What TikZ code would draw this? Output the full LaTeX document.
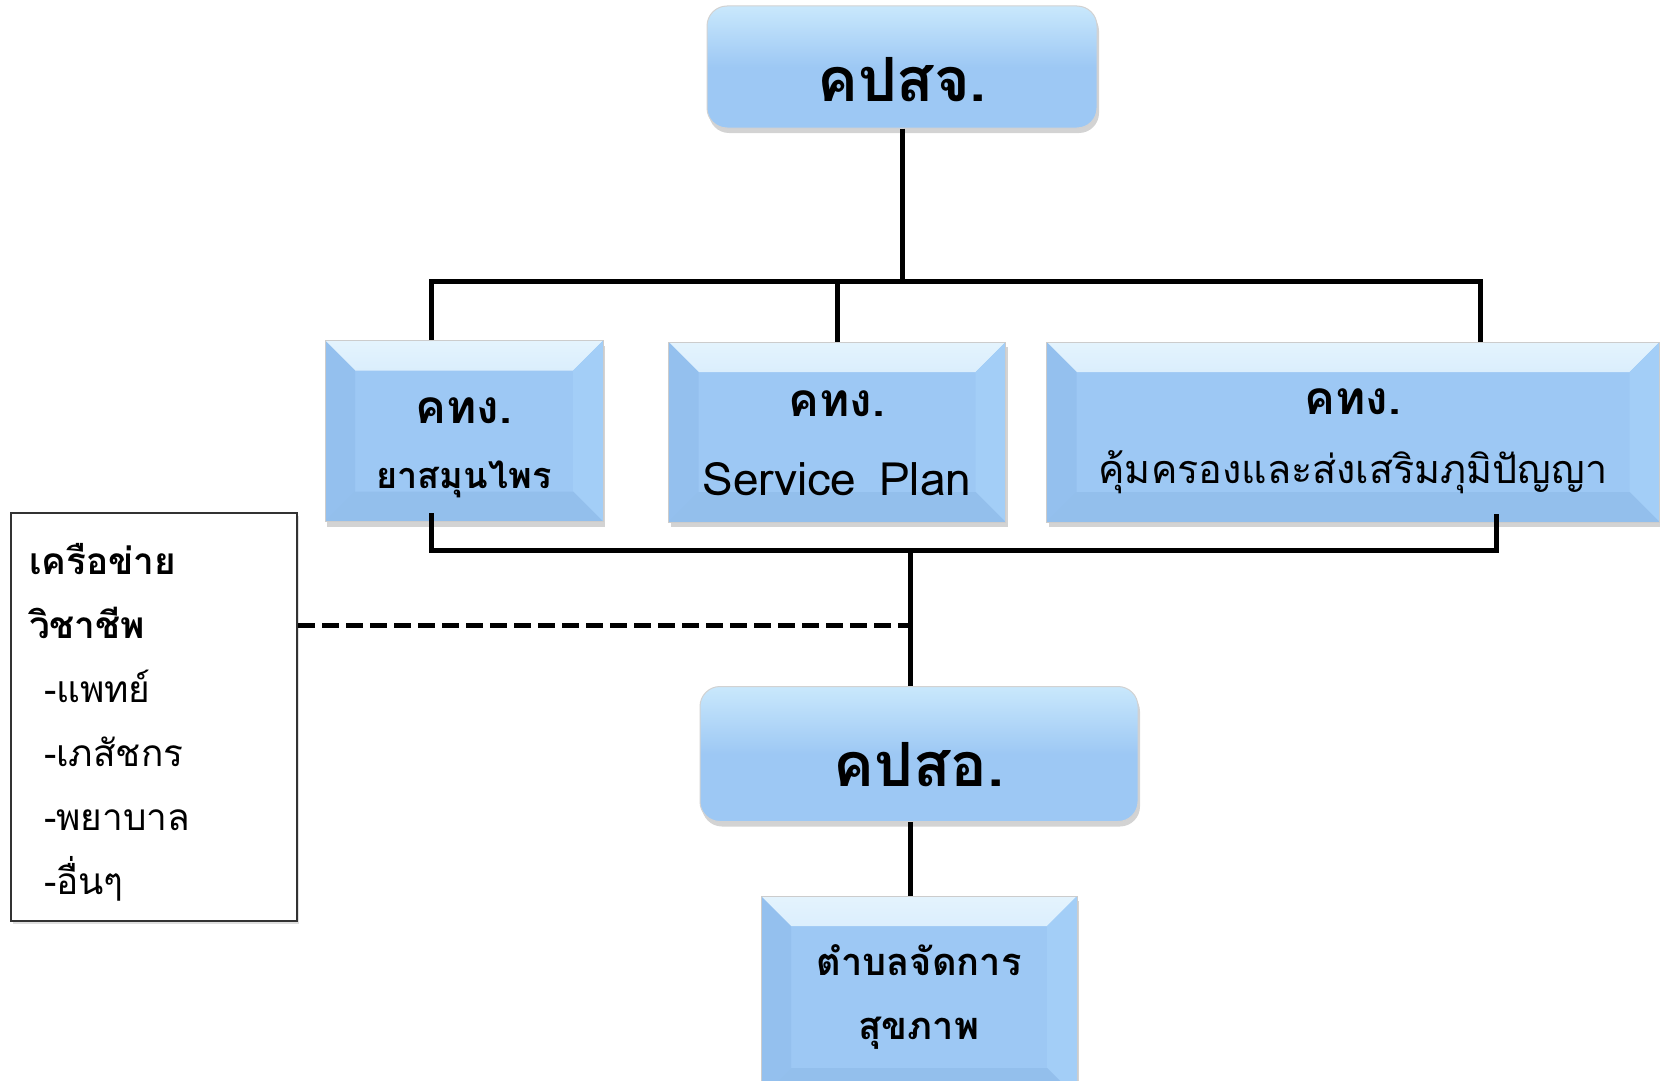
\documentclass[tikz,border=0pt]{standalone}
\usepackage{fontspec}
\usepackage{tikz}
\newfontfamily\thaifont[Script=Thai]{Loma}
\usetikzlibrary{shadows, positioning}
\definecolor{azul}{HTML}{9DC8F4}
\definecolor{azulclaro}{HTML}{C9E8FC}
\definecolor{azulizq}{HTML}{94C0EE}
\definecolor{azulder}{HTML}{A3CEF7}
\definecolor{azulbajo}{HTML}{93BFEC}
\tikzstyle{conector} = [line width=5pt, black]
\tikzstyle{punteada} = [line width=5pt, black, dash pattern=on 17pt off 7pt]
\tikzstyle{redondeada} = [rectangle, rounded corners=20pt, draw=gray!35, line width=1pt, top color=azulclaro, bottom color=azul, middle color=azul, drop shadow={shadow xshift=2pt, shadow yshift=-5pt, opacity=0.35}, font=\thaifont\bfseries\fontsize{61}{61}\selectfont]
\tikzstyle{bisel} = [rectangle, draw=gray!40, line width=1pt, fill=azul, drop shadow={shadow xshift=2pt, shadow yshift=-5pt, opacity=0.35}, align=center, font=\thaifont\bfseries,
	path picture={
		\shade[top color=azulclaro!50!white, bottom color=azul!70!azulclaro] (path picture bounding box.north west) -- (path picture bounding box.north east) -- ([shift={(-30pt,-30pt)}]path picture bounding box.north east) -- ([shift={(30pt,-30pt)}]path picture bounding box.north west) -- cycle;
		\fill[azulizq] (path picture bounding box.north west) -- ([shift={(30pt,-30pt)}]path picture bounding box.north west) -- ([shift={(30pt,30pt)}]path picture bounding box.south west) -- (path picture bounding box.south west) -- cycle;
		\fill[azulder] (path picture bounding box.north east) -- ([shift={(-30pt,-30pt)}]path picture bounding box.north east) -- ([shift={(-30pt,30pt)}]path picture bounding box.south east) -- (path picture bounding box.south east) -- cycle;
		\fill[azulbajo] (path picture bounding box.south west) -- ([shift={(30pt,30pt)}]path picture bounding box.south west) -- ([shift={(-30pt,30pt)}]path picture bounding box.south east) -- (path picture bounding box.south east) -- cycle;
	}]
\tikzstyle{leyenda} = [rectangle, draw=black!80, line width=2pt, fill=white, drop shadow={shadow xshift=2pt, shadow yshift=-3pt, opacity=0.25}, align=left, font=\thaifont\fontsize{37}{64}\selectfont]
% #1 = alto extra de la primera linea
\newcommand{\titulo}[1]{\rule{0pt}{#1}\fontsize{46}{46}\selectfont คทง.}

\begin{document}
\begin{tikzpicture}[x=1pt, y=-1pt]
	\clip (0,0) rectangle (1660,1081);
	% cajas
	\node[redondeada, minimum width=390pt, minimum height=122pt] (kpsj) at (902,67) {\raisebox{-34pt}[0pt][0pt]{คปสจ.}};
	\node[bisel, minimum width=278pt, minimum height=181pt] (yasamun) at (464,431) {\titulo{60pt}\\[36pt] \fontsize{36}{36}\selectfont ยาสมุนไพร};
	\node[bisel, minimum width=337pt, minimum height=180pt] (service) at (837,432) {\titulo{48pt}\\[44pt] \fontsize{46}{46}\selectfont\mdseries Service\ \,Plan};
	\node[bisel, minimum width=613pt, minimum height=180pt] (phumi) at (1353,432) {\titulo{44pt}\\[35pt] \fontsize{39.5}{39.5}\selectfont\mdseries คุ้มครองและส่งเสริมภุมิปัญญา};
	\node[redondeada, minimum width=438pt, minimum height=135pt] (kpso) at (919,754) {\raisebox{-32pt}[0pt][0pt]{คปสอ.}};
	\node[bisel, minimum width=316pt, minimum height=202pt] (tambon) at (919,997) {\fontsize{38}{38}\selectfont ตำบลจัดการ\\[40pt] \fontsize{38}{38}\selectfont สุขภาพ};
	\node[leyenda, minimum width=286pt, minimum height=408pt, text width=250pt] (red) at (154,717) {%
		\rule{0pt}{41pt}\textbf{เครือข่าย}\\
		\textbf{วิชาชีพ}\\
		\hspace*{15pt}-แพทย์\\
		\hspace*{15pt}-เภสัชกร\\
		\hspace*{15pt}-พยาบาล\\
		\hspace*{15pt}-อื่นๆ};
	% lineas
	\coordinate (bus1) at (902,281);
	\coordinate (bus2) at (910,550);
	\draw[conector] (kpsj.south) -- (bus1);
	\draw[conector] ([xshift=-33pt]yasamun.north) |- (bus1) -| ([xshift=127pt]phumi.north);
	\draw[conector] (service.north) -- (service.north |- bus1);
	\draw[conector] ([xshift=-33pt,yshift=9pt]yasamun.south) |- (bus2) -| ([xshift=143pt,yshift=9pt]phumi.south);
	\draw[conector] (bus2) -- (bus2 |- kpso.north);
	\draw[punteada] ([yshift=92pt]red.east) -- ([yshift=92pt]red.east -| bus2);
	\draw[conector] ([xshift=-9pt]kpso.south) -- ([xshift=-9pt]tambon.north);
\end{tikzpicture}
\end{document}
